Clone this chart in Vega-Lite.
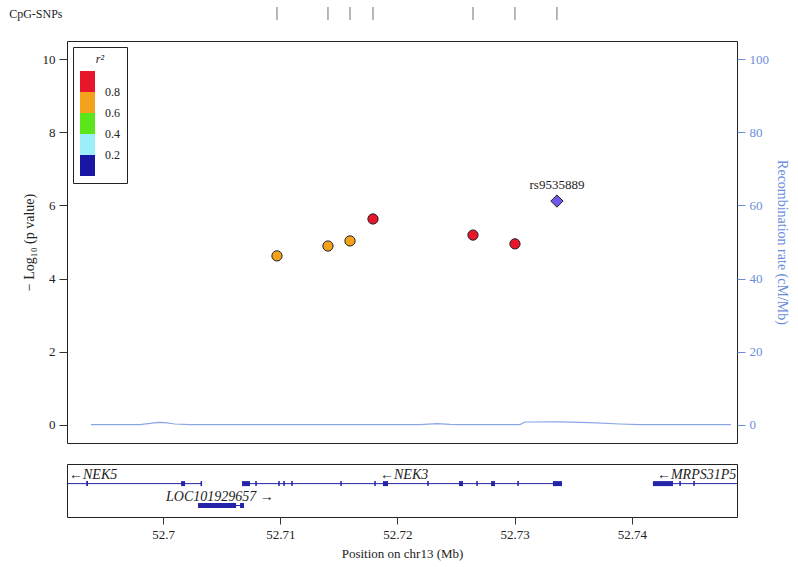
{
  "$schema": "https://vega.github.io/schema/vega-lite/v6.json",
  "padding": {"top": 6, "left": 8, "right": 2, "bottom": 4},
  "spacing": 19,
  "config": {
    "font": "Liberation Serif",
    "view": {"stroke": null},
    "axis": {"labelFont": "Liberation Serif", "titleFont": "Liberation Serif", "labelFontSize": 13, "titleFontSize": 14, "titleFontWeight": "normal", "labelColor": "#222", "titleColor": "#222", "tickColor": "#333", "domain": false, "grid": false},
    "legend": {"labelFont": "Liberation Serif", "titleFont": "Liberation Serif"},
    "text": {"font": "Liberation Serif"}
  },
  "resolve": {"legend": {"color": "independent"}, "scale": {"x": "independent"}},
  "datasets": {
    "snps": [
      {"pos": 52.70972, "logp": 4.62, "r2": 0.7, "lead": false, "label": ""},
      {"pos": 52.71407, "logp": 4.89, "r2": 0.7, "lead": false, "label": ""},
      {"pos": 52.71595, "logp": 5.03, "r2": 0.7, "lead": false, "label": ""},
      {"pos": 52.71791, "logp": 5.63, "r2": 0.9, "lead": false, "label": ""},
      {"pos": 52.72644, "logp": 5.19, "r2": 0.9, "lead": false, "label": ""},
      {"pos": 52.73002, "logp": 4.95, "r2": 0.9, "lead": false, "label": ""},
      {"pos": 52.7336, "logp": 6.12, "r2": 1.0, "lead": true, "label": "rs9535889"}
    ],
    "recomb": [
      {"pos": 52.69386, "rate": 0.05},
      {"pos": 52.69804, "rate": 0.05},
      {"pos": 52.69889, "rate": 0.35},
      {"pos": 52.69957, "rate": 0.65},
      {"pos": 52.70017, "rate": 0.55},
      {"pos": 52.70102, "rate": 0.2},
      {"pos": 52.7023, "rate": 0.05},
      {"pos": 52.71, "rate": 0.03},
      {"pos": 52.72192, "rate": 0.05},
      {"pos": 52.72337, "rate": 0.3},
      {"pos": 52.72448, "rate": 0.1},
      {"pos": 52.72533, "rate": 0.05},
      {"pos": 52.73045, "rate": 0.05},
      {"pos": 52.73087, "rate": 0.75},
      {"pos": 52.73386, "rate": 0.8},
      {"pos": 52.73642, "rate": 0.6},
      {"pos": 52.73898, "rate": 0.2},
      {"pos": 52.74068, "rate": 0.05},
      {"pos": 52.74844, "rate": 0.03}
    ],
    "genes": [
      {"gene": "NEK5", "start": 52.69181, "end": 52.70333, "row": 1},
      {"gene": "NEK3", "start": 52.70674, "end": 52.73403, "row": 1},
      {"gene": "MRPS31P5", "start": 52.74179, "end": 52.74896, "row": 1},
      {"gene": "LOC101929657", "start": 52.70299, "end": 52.70691, "row": 2}
    ],
    "exons": [
      {"gene": "NEK5", "start": 52.69345, "end": 52.6936, "row": 1},
      {"gene": "NEK5", "start": 52.70154, "end": 52.70188, "row": 1},
      {"gene": "NEK5", "start": 52.7032, "end": 52.70333, "row": 1},
      {"gene": "NEK3", "start": 52.70674, "end": 52.70742, "row": 1},
      {"gene": "NEK3", "start": 52.70787, "end": 52.708, "row": 1},
      {"gene": "NEK3", "start": 52.70983, "end": 52.70996, "row": 1},
      {"gene": "NEK3", "start": 52.71026, "end": 52.71039, "row": 1},
      {"gene": "NEK3", "start": 52.71094, "end": 52.71107, "row": 1},
      {"gene": "NEK3", "start": 52.71512, "end": 52.71525, "row": 1},
      {"gene": "NEK3", "start": 52.71802, "end": 52.71815, "row": 1},
      {"gene": "NEK3", "start": 52.71876, "end": 52.71919, "row": 1},
      {"gene": "NEK3", "start": 52.72254, "end": 52.72267, "row": 1},
      {"gene": "NEK3", "start": 52.72525, "end": 52.72559, "row": 1},
      {"gene": "NEK3", "start": 52.72672, "end": 52.72685, "row": 1},
      {"gene": "NEK3", "start": 52.72798, "end": 52.72832, "row": 1},
      {"gene": "NEK3", "start": 52.73022, "end": 52.73035, "row": 1},
      {"gene": "NEK3", "start": 52.73326, "end": 52.73403, "row": 1},
      {"gene": "MRPS31P5", "start": 52.74179, "end": 52.7435, "row": 1},
      {"gene": "MRPS31P5", "start": 52.74404, "end": 52.74417, "row": 1},
      {"gene": "MRPS31P5", "start": 52.74523, "end": 52.74536, "row": 1},
      {"gene": "LOC101929657", "start": 52.70299, "end": 52.70623, "row": 2},
      {"gene": "LOC101929657", "start": 52.70657, "end": 52.70691, "row": 2}
    ],
    "labels": [
      {"text": "←NEK5", "pos": 52.69198, "row": 1},
      {"text": "←NEK3", "pos": 52.71851, "row": 1},
      {"text": "←MRPS31P5", "pos": 52.74213, "row": 1},
      {"text": "LOC101929657 →", "pos": 52.70026, "row": 2}
    ]
  },
  "vconcat": [
    {
      "width": 670,
      "height": 15,
      "data": {"name": "snps"},
      "mark": {"type": "tick", "orient": "vertical", "color": "#333", "thickness": 1, "size": 13},
      "encoding": {
        "x": {"field": "pos", "type": "quantitative", "scale": {"domain": [52.69181, 52.74896], "nice": false, "zero": false}, "axis": null},
        "y": {"datum": "CpG-SNPs", "type": "nominal", "title": null, "axis": {"ticks": false, "labelPadding": 5, "labelFontSize": 12, "labelColor": "#222"}}
      }
    },
    {
      "width": 670,
      "height": 402,
      "view": {"stroke": "#222", "strokeWidth": 1},
      "resolve": {"scale": {"y": "independent"}},
      "layer": [
        {
          "data": {"name": "recomb"},
          "mark": {"type": "line", "color": "#8AA6E8", "strokeWidth": 1.2},
          "encoding": {
            "x": {"field": "pos", "type": "quantitative", "scale": {"domain": [52.69181, 52.74896], "nice": false, "zero": false}, "axis": null},
            "y": {"field": "rate", "type": "quantitative", "scale": {"domain": [-5, 105], "nice": false, "zero": false},
              "axis": {"orient": "right", "values": [0, 20, 40, 60, 80, 100], "title": "Recombination rate (cM/Mb)", "labelColor": "#6A8EDC", "titleColor": "#6A8EDC", "tickColor": "#6A8EDC", "tickSize": 8, "labelPadding": 4, "titlePadding": 6}}
          }
        },
        {
          "data": {"name": "snps"},
          "transform": [{"filter": "!datum.lead"}],
          "mark": {"type": "point", "filled": true, "shape": "circle", "size": 105, "stroke": "#222", "strokeWidth": 1, "opacity": 1},
          "encoding": {
            "x": {"field": "pos", "type": "quantitative", "scale": {"domain": [52.69181, 52.74896], "nice": false, "zero": false}, "axis": null},
            "y": {"field": "logp", "type": "quantitative", "scale": {"domain": [-0.5, 10.5], "nice": false, "zero": false},
              "axis": {"orient": "left", "values": [0, 2, 4, 6, 8, 10], "title": "− Log₁₀ (p value)", "titleColor": "#222", "tickSize": 8, "labelPadding": 4, "titlePadding": 6}},
            "color": {"field": "r2", "type": "quantitative",
              "scale": {"type": "threshold", "domain": [0.2, 0.4, 0.6, 0.8], "range": ["#1717A3", "#9CEFF8", "#5BE61C", "#F4A21C", "#E8162B"]},
              "legend": {"type": "gradient", "title": "r²", "orient": "top-left", "offset": 6, "direction": "vertical", "gradientLength": 105, "gradientThickness": 15, "labelFontSize": 12, "labelOffset": 10, "labelColor": "#222", "titleFontStyle": "italic", "titleFontWeight": "normal", "titleFontSize": 12, "titleColor": "#222", "padding": 7, "strokeColor": "#222", "fillColor": "white", "titleAnchor": "middle"}}
          }
        },
        {
          "data": {"name": "snps"},
          "transform": [{"filter": "datum.lead"}],
          "mark": {"type": "point", "filled": true, "shape": "diamond", "size": 150, "color": "#7357E8", "stroke": "#222", "strokeWidth": 1, "opacity": 1},
          "encoding": {
            "x": {"field": "pos", "type": "quantitative", "scale": {"domain": [52.69181, 52.74896], "nice": false, "zero": false}, "axis": null},
            "y": {"field": "logp", "type": "quantitative", "scale": {"domain": [-0.5, 10.5], "nice": false, "zero": false}, "axis": null}
          }
        },
        {
          "data": {"name": "snps"},
          "transform": [{"filter": "datum.lead"}],
          "mark": {"type": "text", "dy": -16, "fontSize": 13, "color": "#222"},
          "encoding": {
            "x": {"field": "pos", "type": "quantitative", "scale": {"domain": [52.69181, 52.74896], "nice": false, "zero": false}, "axis": null},
            "y": {"field": "logp", "type": "quantitative", "scale": {"domain": [-0.5, 10.5], "nice": false, "zero": false}, "axis": null},
            "text": {"field": "label"}
          }
        }
      ]
    },
    {
      "width": 670,
      "height": 53,
      "view": {"stroke": "#222", "strokeWidth": 1},
      "layer": [
        {
          "data": {"name": "genes"},
          "mark": {"type": "rule", "color": "#2424A8", "strokeWidth": 1},
          "encoding": {
            "x": {"field": "start", "type": "quantitative", "scale": {"domain": [52.69181, 52.74896], "nice": false, "zero": false},
              "title": "Position on chr13 (Mb)",
              "axis": {"values": [52.7, 52.71, 52.72, 52.73, 52.74], "format": ".6~r", "tickSize": 7, "labelPadding": 4, "titlePadding": 6, "titleFontSize": 13}},
            "x2": {"field": "end"},
            "y": {"field": "row", "type": "quantitative", "scale": {"domain": [0.333, 2.296], "reverse": true, "nice": false, "zero": false}, "axis": null}
          }
        },
        {
          "data": {"name": "exons"},
          "mark": {"type": "bar", "orient": "horizontal", "color": "#2424A8", "size": 5},
          "encoding": {
            "x": {"field": "start", "type": "quantitative", "title": "Position on chr13 (Mb)"},
            "x2": {"field": "end"},
            "y": {"field": "row", "type": "quantitative", "axis": null}
          }
        },
        {
          "data": {"name": "labels"},
          "mark": {"type": "text", "align": "left", "baseline": "middle", "dy": -9, "fontStyle": "italic", "fontSize": 14, "color": "#222"},
          "encoding": {
            "x": {"field": "pos", "type": "quantitative", "title": "Position on chr13 (Mb)"},
            "y": {"field": "row", "type": "quantitative", "axis": null},
            "text": {"field": "text"}
          }
        }
      ]
    }
  ]
}
